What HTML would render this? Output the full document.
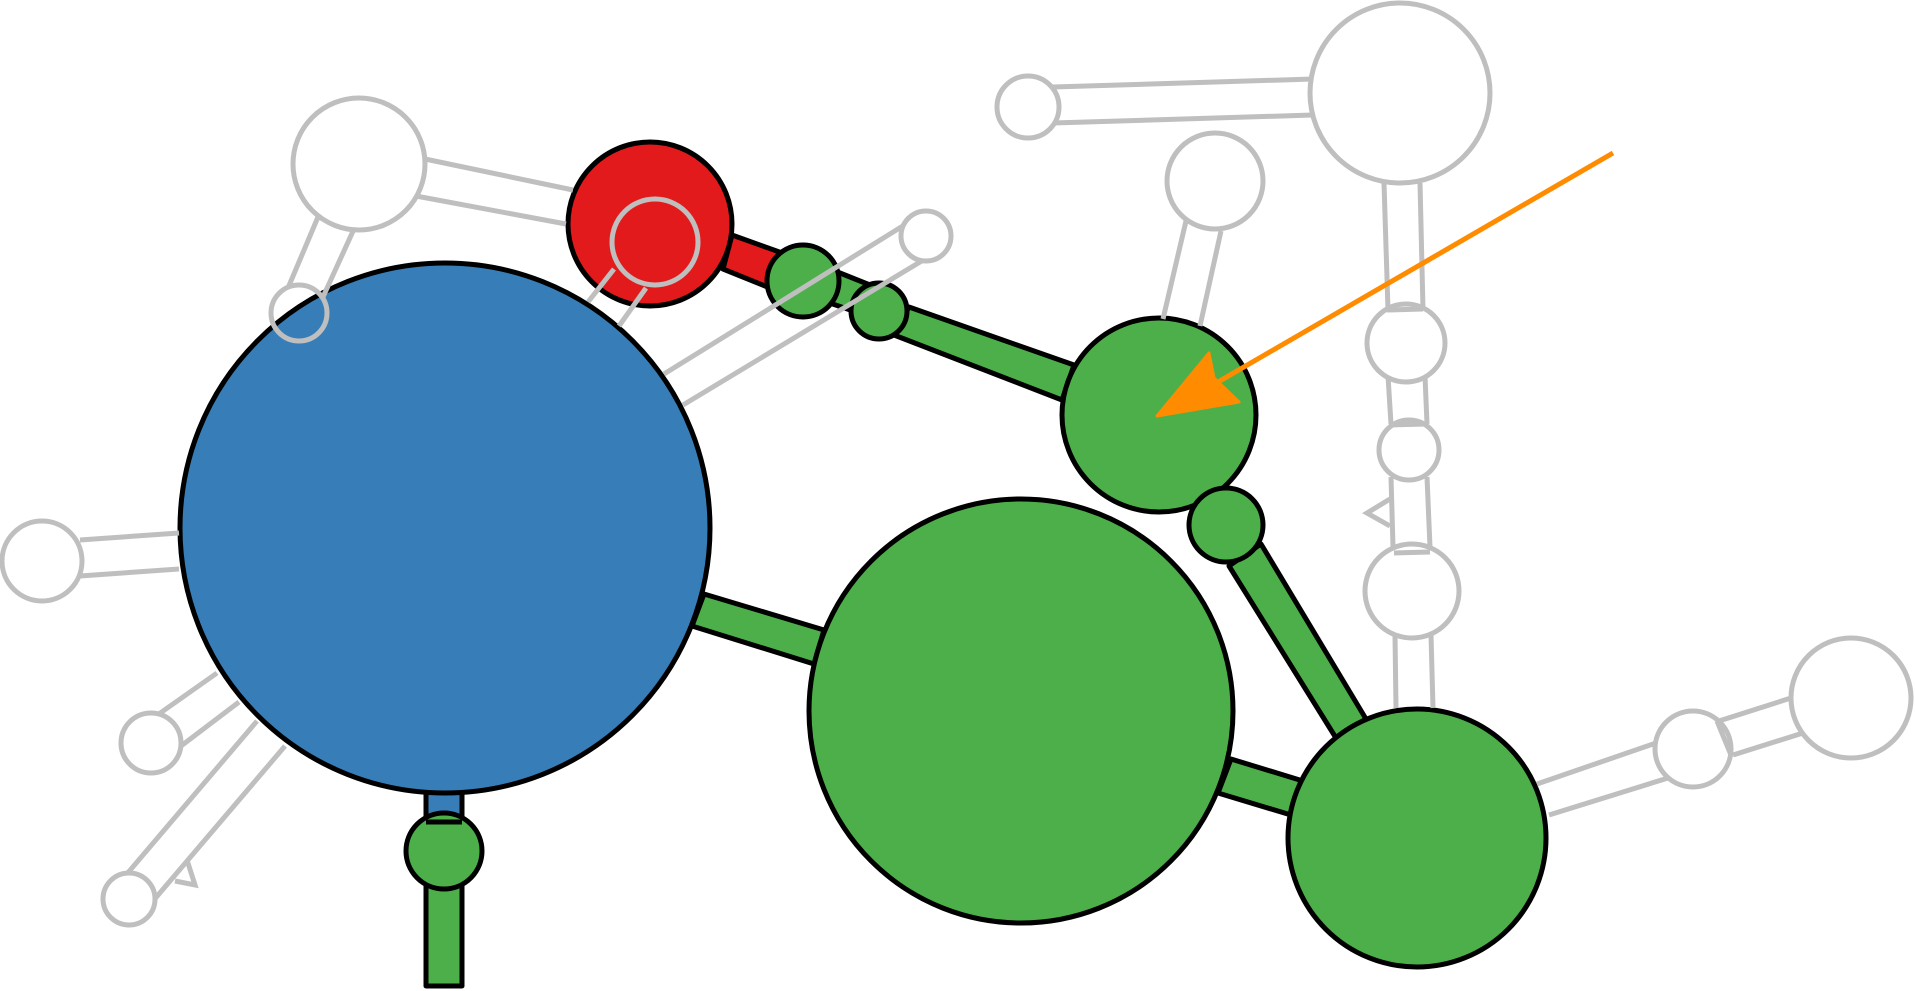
<!DOCTYPE html>
<html><head><style>html,body{margin:0;padding:0;background:#fff;width:1915px;height:991px;overflow:hidden}</style></head>
<body>
<svg width="1915" height="991" viewBox="0 0 1915 991" xmlns="http://www.w3.org/2000/svg">
<g stroke="#000" stroke-width="5" stroke-linejoin="round">
<polygon points="732,235 785,254 775,290 723,269" fill="#e31a1c"/>
<polygon points="820,265 870,285 865,315 815,298" fill="#4daf4a"/>
<polygon points="909,307 1074,365 1062,400 894,335" fill="#4daf4a"/>
<polygon points="704,594 824,630 814,664 692,626" fill="#4daf4a"/>
<polygon points="1231,759 1303,781 1291,815 1218,793" fill="#4daf4a"/>
<polygon points="1261,544 1366,719 1336,738 1229,566" fill="#4daf4a"/>
<rect x="426" y="780" width="36" height="42" fill="#377eb8"/>
<rect x="426" y="880" width="36" height="106" fill="#4daf4a"/>
</g>
<g stroke="#000" stroke-width="5">
<circle cx="650" cy="224" r="82" fill="#e31a1c"/>
<circle cx="445" cy="528" r="265" fill="#377eb8"/>
<circle cx="1021" cy="711" r="212" fill="#4daf4a"/>
<circle cx="1417" cy="838" r="129" fill="#4daf4a"/>
<circle cx="1159" cy="415" r="97" fill="#4daf4a"/>
<circle cx="1226" cy="525" r="37" fill="#4daf4a"/>
<circle cx="803" cy="281" r="36" fill="#4daf4a"/>
<circle cx="879" cy="311" r="28" fill="#4daf4a"/>
<circle cx="444" cy="851" r="38" fill="#4daf4a"/>
<line x1="426" y1="822" x2="462" y2="822"/>
</g>
<g stroke="#bfbfbf" stroke-width="5" fill="none">
<line x1="425" y1="159" x2="573" y2="190"/><line x1="416" y1="196" x2="566" y2="224"/>
<line x1="318" y1="217" x2="288" y2="288"/><line x1="354" y1="229" x2="323" y2="297"/><line x1="318" y1="217" x2="354" y2="229"/>
<line x1="614" y1="269" x2="588" y2="302"/><line x1="646" y1="288" x2="619" y2="326"/>
<line x1="906" y1="224" x2="664" y2="374"/><line x1="925" y1="259" x2="683" y2="405"/>
<line x1="80" y1="540" x2="179" y2="533"/><line x1="80" y1="576" x2="179" y2="569"/>
<line x1="156" y1="716" x2="217" y2="673"/><line x1="181" y1="746" x2="239" y2="702"/>
<line x1="126" y1="875" x2="257" y2="721"/><line x1="153" y1="901" x2="285" y2="746"/>
<polyline points="187,860 195,885 175,881"/>
<line x1="1053" y1="87" x2="1313" y2="79"/><line x1="1053" y1="123" x2="1313" y2="115"/>
<line x1="1186" y1="221" x2="1163" y2="319"/><line x1="1221" y1="231" x2="1200" y2="326"/>
<line x1="1384" y1="183" x2="1388" y2="310"/><line x1="1420" y1="183" x2="1423" y2="310"/>
<line x1="1388" y1="376" x2="1391" y2="424"/><line x1="1425" y1="376" x2="1427" y2="424"/>
<line x1="1391" y1="477" x2="1393" y2="547"/><line x1="1427" y1="477" x2="1430" y2="547"/>
<polyline points="1390,499 1367,513 1390,526"/>
<line x1="1395" y1="635" x2="1396" y2="708"/><line x1="1431" y1="635" x2="1433" y2="708"/>
<line x1="1537" y1="784" x2="1656" y2="743"/><line x1="1549" y1="815" x2="1668" y2="778"/>
<line x1="1719" y1="721" x2="1791" y2="698"/><line x1="1733" y1="755" x2="1803" y2="733"/>
</g>
<g stroke="#bfbfbf" stroke-width="5" fill="#fff">
<circle cx="359" cy="164" r="66"/>
<circle cx="299" cy="313" r="28" fill="none"/>
<circle cx="42" cy="561" r="40"/>
<circle cx="151" cy="743" r="30"/>
<circle cx="129" cy="899" r="26"/>
<circle cx="926" cy="236" r="25"/>
<circle cx="1400" cy="93" r="90"/>
<circle cx="1028" cy="107" r="31"/>
<circle cx="1215" cy="181" r="48"/>
<circle cx="1406" cy="343" r="39"/>
<circle cx="1409" cy="450" r="30"/>
<circle cx="1412" cy="591" r="47"/>
<circle cx="1693" cy="749" r="38"/>
<circle cx="1851" cy="698" r="60"/>
<circle cx="655" cy="242" r="43" fill="none"/>
</g>
<g stroke="#bfbfbf" stroke-width="5">
<line x1="1387" y1="310" x2="1423" y2="309"/>
<line x1="1389" y1="425" x2="1427" y2="424"/>
<line x1="1394" y1="553" x2="1430" y2="552"/>
<line x1="1717" y1="721" x2="1731" y2="755"/>
</g>
<line x1="1613" y1="153" x2="1218" y2="382" stroke="#ff8c00" stroke-width="5"/>
<polygon points="1157,416 1209,353 1214,378 1239,402" fill="#ff8c00" stroke="#ff8c00" stroke-width="3" stroke-linejoin="round"/>
</svg>
</body></html>
